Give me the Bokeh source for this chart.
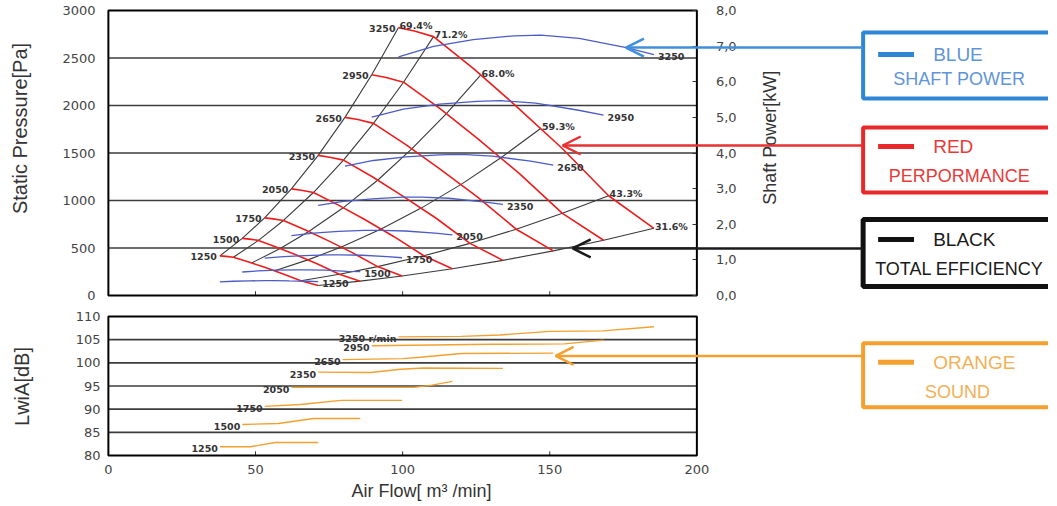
import math
from bokeh.plotting import figure
from bokeh.models import Range1d, LinearAxis, FixedTicker, Label, Arrow, OpenHead, Title
from bokeh.layouts import column, row
from bokeh.embed import file_html
from bokeh.resources import INLINE
from bokeh.core.properties import value

# ---------------- data ----------------
FLOW_TICKS = [0, 50, 100, 150, 200]
PRESSURE_TICKS = [0, 500, 1000, 1500, 2000, 2500, 3000]
POWER_TICKS = [0, 1, 2, 3, 4, 5, 6, 7, 8]
POWER_TICK_LABELS = ["0,0", "1,0", "2,0", "3,0", "4,0", "5,0", "6,0", "7,0", "8,0"]
SOUND_TICKS = [80, 85, 90, 95, 100, 105, 110]

RPM = [3250, 2950, 2650, 2350, 2050, 1750, 1500, 1250]

# red: static pressure curves (flow m3/min, pressure Pa)
PERF_FLOW = [
    [98.6, 104.0, 110.5, 124.0, 138.0, 154.0, 170.0, 185.4],
    [89.5, 94.4, 100.3, 112.6, 125.3, 139.8, 154.3, 168.3],
    [80.4, 84.8, 90.1, 101.1, 112.5, 125.6, 138.6, 151.2],
    [71.3, 75.2, 79.9, 89.7, 99.8, 111.4, 122.9, 134.1],
    [62.2, 65.6, 69.7, 78.2, 87.1, 97.1, 107.2, 116.9],
    [53.1, 56.0, 59.5, 66.8, 74.3, 82.9, 91.5, 99.8],
    [45.5, 48.0, 51.0, 57.2, 63.7, 71.1, 78.5, 85.6],
    [37.9, 40.0, 42.5, 47.7, 53.1, 59.2, 65.4, 71.3],
]
PERF_PRESSURE = [
    [2820, 2785, 2725, 2390, 2010, 1555, 1050, 707],
    [2323, 2295, 2245, 1969, 1656, 1281, 865, 582],
    [1875, 1852, 1812, 1589, 1336, 1034, 698, 470],
    [1475, 1456, 1425, 1250, 1051, 813, 549, 370],
    [1122, 1108, 1084, 951, 800, 619, 418, 281],
    [817, 807, 790, 693, 583, 451, 304, 205],
    [601, 593, 580, 509, 428, 331, 224, 151],
    [417, 412, 403, 353, 297, 230, 155, 105],
]

# black: total efficiency lines
EFF_LABELS = ["69.4%", "71.2%", "68.0%", "59.3%", "43.3%", "31.6%"]
EFF_FLOW = [
    [98.6, 89.5, 80.4, 71.3, 62.2, 53.1, 45.5, 37.9],
    [110.5, 100.3, 90.1, 79.9, 69.7, 59.5, 51.0, 42.5],
    [126.5, 114.8, 103.1, 91.5, 79.8, 68.1, 58.4, 48.7],
    [147.0, 133.4, 119.9, 106.3, 92.7, 79.2, 67.8, 56.5],
    [170.0, 154.3, 138.6, 122.9, 107.2, 91.5, 78.5, 65.4],
    [185.4, 168.3, 151.2, 134.1, 116.9, 99.8, 85.6, 71.3],
]
EFF_PRESSURE = [
    [2820, 2323, 1875, 1475, 1122, 817, 601, 417],
    [2725, 2245, 1812, 1425, 1084, 790, 580, 403],
    [2320, 1911, 1543, 1213, 923, 673, 494, 343],
    [1760, 1450, 1170, 920, 700, 510, 375, 260],
    [1050, 865, 698, 549, 418, 304, 224, 155],
    [707, 582, 470, 370, 281, 205, 151, 105],
]

# blue: shaft power (kW)
POWER_FLOW = [
    [98.6, 110.5, 124.0, 138.0, 147.0, 160.0, 176.0, 185.4],
    [89.5, 100.3, 112.6, 125.3, 133.4, 145.2, 159.8, 168.3],
    [80.4, 90.1, 101.1, 112.5, 119.9, 130.5, 143.5, 151.2],
    [71.3, 79.9, 89.7, 99.8, 106.3, 115.7, 127.3, 134.1],
    [62.2, 69.7, 78.2, 87.1, 92.7, 100.9, 111.0, 116.9],
    [53.1, 59.5, 66.8, 74.3, 79.2, 86.2, 94.8, 99.8],
    [45.5, 51.0, 57.2, 63.7, 67.8, 73.8, 81.2, 85.6],
    [37.9, 42.5, 47.7, 53.1, 56.5, 61.5, 67.7, 71.3],
]
POWER_KW = [
    [6.70, 6.99, 7.18, 7.29, 7.31, 7.22, 6.96, 6.76],
    [5.01, 5.23, 5.37, 5.45, 5.47, 5.40, 5.20, 5.06],
    [3.63, 3.79, 3.89, 3.95, 3.96, 3.91, 3.77, 3.66],
    [2.53, 2.64, 2.71, 2.76, 2.76, 2.73, 2.63, 2.56],
    [1.68, 1.75, 1.80, 1.83, 1.83, 1.81, 1.75, 1.70],
    [1.05, 1.09, 1.12, 1.14, 1.14, 1.13, 1.09, 1.06],
    [0.66, 0.69, 0.71, 0.72, 0.72, 0.71, 0.68, 0.67],
    [0.38, 0.40, 0.41, 0.42, 0.42, 0.41, 0.40, 0.39],
]

# orange: sound power level LwA (dB)
SOUND_LABELS = ["3250 r/min", "2950", "2650", "2350", "2050", "1750", "1500", "1250"]
SOUND_FLOW = [
    [98.6, 120.0, 133.0, 150.0, 168.0, 185.4],
    [89.5, 130.0, 155.0, 168.3],
    [79.6, 100.0, 106.0, 120.0, 151.2],
    [71.3, 89.1, 99.3, 107.1, 134.1],
    [62.2, 104.0, 110.0, 116.9],
    [53.1, 65.3, 79.0, 99.8],
    [45.5, 57.8, 69.7, 85.6],
    [37.9, 48.3, 56.8, 71.3],
]
SOUND_DB = [
    [105.6, 105.7, 106.0, 106.8, 106.9, 107.8],
    [103.7, 104.0, 104.1, 104.9],
    [100.7, 100.9, 101.2, 102.0, 102.1],
    [98.0, 97.9, 98.6, 98.9, 98.8],
    [94.7, 94.7, 95.2, 96.0],
    [90.6, 91.0, 91.9, 91.9],
    [86.7, 86.9, 88.0, 88.0],
    [81.9, 81.9, 82.8, 82.8],
]

LEGEND_TITLES = ["BLUE", "RED", "BLACK"]
LEGEND_NAMES = ["SHAFT POWER", "PERPORMANCE", "TOTAL EFFICIENCY"]
LEFT_TITLES = ["Static Pressure[Pa]", "LwiA[dB]"]

# ---------------- styles / layout ----------------
RED = "#ee1d1d"
BLUE_CURVE = "#4b5cc6"
BLACK_CURVE = "#3a3a3a"
ORANGE = "#f5a02e"
BOX_COLORS = ["#2f86d6", "#e8282a", "#111111"]
BOX_TEXT = ["#5f95d8", "#e83a3a", "#1a1a1a"]
BOX_WIDTH = [4, 4, 5]
TICK_FONT = "DejaVu Sans"
TITLE_FONT = "Liberation Sans"
LABEL_COLOR = "#333333"

PAD = 6                      # px of white space kept round each chart box
X_PAD, X_END = 2.0, 319.5    # flow-axis range (extra room on the right for the legend)
FRAME_W = 946
TOP_H, BOT_H = 285, 139      # px height of the chart boxes
STRIP_W, STRIP_H = 34, 500   # narrow strip holding the two left axis titles
LEFT_TITLE_X = [19, 21]      # strip px
LEFT_TITLE_Y = [372, 114]    # strip px measured from its bottom

pa_pad = PAD * (PRESSURE_TICKS[-1] - PRESSURE_TICKS[0]) / TOP_H
kw_pad = PAD * (POWER_TICKS[-1] - POWER_TICKS[0]) / TOP_H
db_pad = PAD * (SOUND_TICKS[-1] - SOUND_TICKS[0]) / BOT_H

# legend geometry (data units of each panel)
BOX_LEFT, BOX_RIGHT = 256.5, 335.0
DASH_X0, DASH_X1 = 261.6, 273.8
TEXT1_X, TEXT2_X = 280.3, 289.2
BOX_TOP = [2768, 1768, 800]
BOX_BOTTOM = [2074, 1084, 95]
TEXT1_Y = [2537, 1568, 589]
TEXT2_Y = [2274, 1253, 274]
ARROW_TIP_X = [175.9, 154.4, 157.8]
ARROW_Y = [2610, 1579, 495]
SHAFT_TITLE_Y = 1660          # vertical centre of the kW axis title (Pa units)


def style_left_axis(ax, ticks, label_standoff):
    ax.ticker = FixedTicker(ticks=ticks)
    ax.major_label_text_font = TICK_FONT
    ax.major_label_text_font_size = "13px"
    ax.major_label_text_color = "#444444"
    ax.major_label_standoff = label_standoff
    ax.major_tick_in = 0
    ax.major_tick_out = 0
    ax.minor_tick_in = 0
    ax.minor_tick_out = 0
    ax.axis_line_color = None


def small_text(p, xs, ys, texts, align, xoff, yoff, **kw):
    p.text(x=xs, y=ys, text=texts, text_align=align, text_baseline="middle",
           x_offset=xoff, y_offset=yoff, text_font=value(TICK_FONT),
           text_font_size="9.5px", text_font_style="bold", text_color="#333333", **kw)


# ================= left title strip =================
strip = figure(width=STRIP_W, height=STRIP_H, min_border=0, x_range=Range1d(0, STRIP_W),
               y_range=Range1d(0, STRIP_H), x_axis_location=None, y_axis_location=None,
               output_backend="svg", toolbar_location=None)
strip.grid.visible = False
strip.outline_line_color = None
strip.text(x=LEFT_TITLE_X, y=LEFT_TITLE_Y, text=LEFT_TITLES, angle=math.pi / 2,
           text_align="center", text_baseline="middle", text_font=value(TITLE_FONT),
           text_font_size="20px", text_color=LABEL_COLOR)

# ================= top figure =================
top = figure(frame_width=FRAME_W, frame_height=TOP_H + 2 * PAD, min_border_left=102 - STRIP_W,
             min_border_right=0, min_border_top=4, min_border_bottom=4,
             x_range=Range1d(-X_PAD, X_END),
             y_range=Range1d(PRESSURE_TICKS[0] - pa_pad, PRESSURE_TICKS[-1] + pa_pad),
             x_axis_location=None, output_backend="svg", toolbar_location=None)
top.extra_y_ranges = {"kw": Range1d(POWER_TICKS[0] - kw_pad, POWER_TICKS[-1] + kw_pad)}
top.grid.visible = False
top.outline_line_color = None
style_left_axis(top.yaxis[0], PRESSURE_TICKS, 7)

right_ax = LinearAxis(y_range_name="kw", fixed_location=FLOW_TICKS[-1],
                      ticker=FixedTicker(ticks=POWER_TICKS),
                      major_label_overrides={t: s for t, s in zip(POWER_TICKS, POWER_TICK_LABELS)})
right_ax.major_label_text_font = TICK_FONT
right_ax.major_label_text_font_size = "13px"
right_ax.major_label_text_color = "#444444"
right_ax.major_label_standoff = 19
right_ax.major_tick_in = 4
right_ax.major_tick_out = 0
right_ax.major_tick_line_color = "#333333"
right_ax.minor_tick_in = 0
right_ax.minor_tick_out = 0
right_ax.axis_line_color = None
top.add_layout(right_ax, "right")

# grid lines inside the chart box
inner = PRESSURE_TICKS[1:-1]
top.segment(x0=[FLOW_TICKS[0]] * len(inner), y0=inner, x1=[FLOW_TICKS[-1]] * len(inner), y1=inner,
            line_color="#3c3c3c", line_width=1.6)
# small flow ticks on the bottom edge
mid_flow = FLOW_TICKS[1:-1]
top.segment(x0=mid_flow, y0=[PRESSURE_TICKS[0]] * len(mid_flow), x1=mid_flow,
            y1=[PRESSURE_TICKS[0] + 45] * len(mid_flow), line_color="#333333", line_width=1)
# chart box
top.quad(left=FLOW_TICKS[0], right=FLOW_TICKS[-1], bottom=PRESSURE_TICKS[0], top=PRESSURE_TICKS[-1],
         fill_color=None, line_color="black", line_width=2)

top.multi_line(xs=EFF_FLOW, ys=EFF_PRESSURE, line_color=BLACK_CURVE, line_width=1.1)
top.multi_line(xs=PERF_FLOW, ys=PERF_PRESSURE, line_color=RED, line_width=1.6)
top.multi_line(xs=POWER_FLOW, ys=POWER_KW, line_color=BLUE_CURVE, line_width=1.3, y_range_name="kw")

small_text(top, [q[0] for q in PERF_FLOW], [pp[0] for pp in PERF_PRESSURE], [str(r) for r in RPM],
           "right", -3, 1)
small_text(top, [q[0] for q in EFF_FLOW], [pp[0] for pp in EFF_PRESSURE], EFF_LABELS,
           "left", 1, -2)
small_text(top, [q[-1] for q in POWER_FLOW], [k[-1] for k in POWER_KW], [str(r) for r in RPM],
           "left", 4, 2, y_range_name="kw")

top.add_layout(Label(x=FLOW_TICKS[-1], y=SHAFT_TITLE_Y, x_offset=73,
                     text="Shaft Power[kW]", angle=math.pi / 2, text_align="center",
                     text_baseline="middle", text_font=TITLE_FONT, text_font_size="18px",
                     text_color=LABEL_COLOR))

# legend boxes with arrows
top.quad(left=[BOX_LEFT] * 3, right=[BOX_RIGHT] * 3, top=BOX_TOP, bottom=BOX_BOTTOM,
         fill_color=None, line_color=BOX_COLORS, line_width=BOX_WIDTH)
top.segment(x0=[DASH_X0] * 3, y0=TEXT1_Y, x1=[DASH_X1] * 3, y1=TEXT1_Y,
            line_color=BOX_COLORS, line_width=5)
top.text(x=[TEXT1_X] * 3, y=TEXT1_Y, text=LEGEND_TITLES, text_align="left", text_baseline="middle",
         text_font=value(TITLE_FONT), text_font_size="19px", text_color=BOX_TEXT)
top.text(x=[TEXT2_X] * 3, y=TEXT2_Y, text=LEGEND_NAMES, text_align="center", text_baseline="middle",
         text_font=value(TITLE_FONT), text_font_size="18px", text_color=BOX_TEXT)
for tip, yy, col in zip(ARROW_TIP_X, ARROW_Y, ["#3f8fdc", "#e83030", "#1a1a1a"]):
    top.add_layout(Arrow(x_start=BOX_LEFT, y_start=yy, x_end=tip, y_end=yy, line_color=col,
                         line_width=2.5,
                         end=OpenHead(size=18, line_color=col, line_width=2.5)))

# ================= bottom figure =================
bot = figure(frame_width=FRAME_W, frame_height=BOT_H + 2 * PAD, min_border_left=102 - STRIP_W,
             min_border_right=0, min_border_top=5, min_border_bottom=0,
             x_range=Range1d(-X_PAD, X_END),
             y_range=Range1d(SOUND_TICKS[0] - db_pad, SOUND_TICKS[-1] + db_pad),
             output_backend="svg", toolbar_location=None)
bot.grid.visible = False
bot.outline_line_color = None
style_left_axis(bot.yaxis[0], SOUND_TICKS, 2)
xa = bot.xaxis[0]
xa.ticker = FixedTicker(ticks=FLOW_TICKS)
xa.major_label_text_font = TICK_FONT
xa.major_label_text_font_size = "13px"
xa.major_label_text_color = "#444444"
xa.major_label_standoff = 3
xa.major_tick_in = 0
xa.major_tick_out = 0
xa.minor_tick_in = 0
xa.minor_tick_out = 0
xa.axis_line_color = None

inner_db = SOUND_TICKS[1:-1]
bot.segment(x0=[FLOW_TICKS[0]] * len(inner_db), y0=inner_db, x1=[FLOW_TICKS[-1]] * len(inner_db),
            y1=inner_db, line_color="#3c3c3c", line_width=1.6)
bot.segment(x0=mid_flow, y0=[SOUND_TICKS[0]] * len(mid_flow), x1=mid_flow,
            y1=[SOUND_TICKS[0] + 0.9] * len(mid_flow), line_color="#333333", line_width=1)
bot.quad(left=FLOW_TICKS[0], right=FLOW_TICKS[-1], bottom=SOUND_TICKS[0], top=SOUND_TICKS[-1],
         fill_color=None, line_color="black", line_width=2)
bot.multi_line(xs=SOUND_FLOW, ys=SOUND_DB, line_color=ORANGE, line_width=1.4)
small_text(bot, [q[0] for q in SOUND_FLOW], [d[0] for d in SOUND_DB], SOUND_LABELS, "right", -2, 2)

bot.add_layout(Title(text="Air Flow[ m\u00b3 /min]", align="left", offset=249, standoff=5,
                     text_font=TITLE_FONT, text_font_size="18px", text_font_style="normal",
                     text_color=LABEL_COLOR), "below")

bot.quad(left=[BOX_LEFT], right=[BOX_RIGHT], top=[104.2], bottom=[90.4], fill_color=None,
         line_color=ORANGE, line_width=4)
bot.segment(x0=[DASH_X0], y0=[100.1], x1=[DASH_X1], y1=[100.1], line_color=ORANGE, line_width=5)
bot.text(x=[TEXT1_X], y=[100.1], text=["ORANGE"], text_align="left", text_baseline="middle",
         text_font=value(TITLE_FONT), text_font_size="19px", text_color="#f2b057")
bot.text(x=[TEXT2_X - 0.6], y=[93.6], text=["SOUND"], text_align="center", text_baseline="middle",
         text_font=value(TITLE_FONT), text_font_size="18px", text_color="#f2b057")
bot.add_layout(Arrow(x_start=BOX_LEFT, y_start=101.5, x_end=152.0, y_end=101.5, line_color=ORANGE,
                     line_width=2.5, end=OpenHead(size=18, line_color=ORANGE, line_width=2.5)))

layout = row(strip, column(top, bot))
open("out.html", "w").write(file_html(layout, INLINE))
